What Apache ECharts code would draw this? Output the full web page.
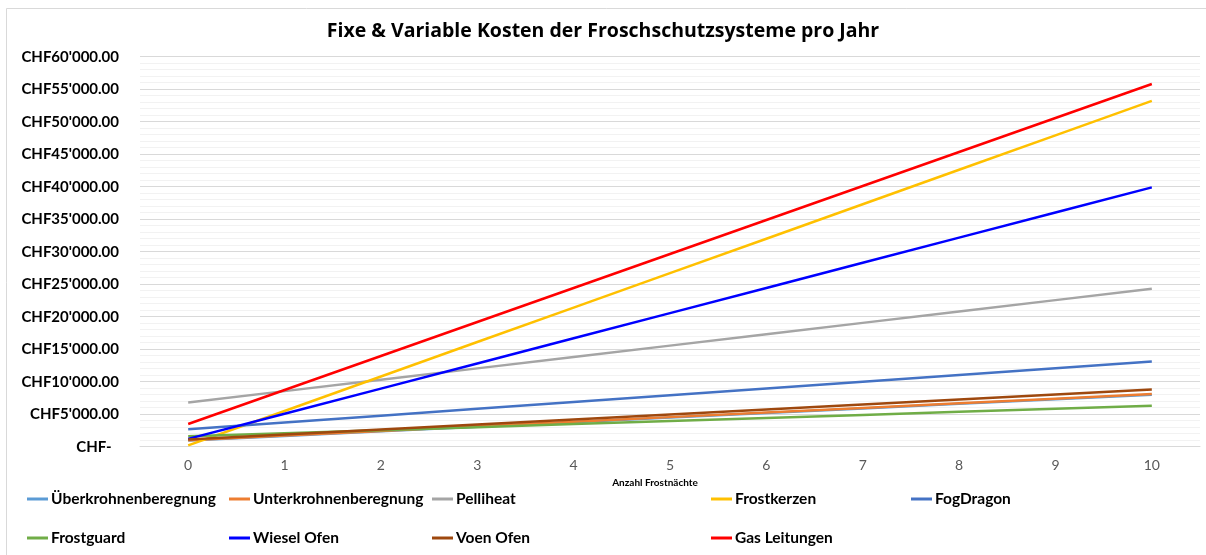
<!DOCTYPE html>
<html><head><meta charset="utf-8">
<script src="https://cdn.jsdelivr.net/npm/echarts@6/dist/echarts.min.js"></script>
<style>html,body{margin:0;padding:0;background:#fff;}#c{width:1206px;height:555px;}</style>
</head><body><div id="c"></div>
<script>
const categories = ['0','1','2','3','4','5','6','7','8','9','10'];
const titleText = 'Fixe & Variable Kosten der Froschschutzsysteme pro Jahr';
const xAxisName = 'Anzahl Frostnächte';
const seriesNames = ['Überkrohnenberegnung','Unterkrohnenberegnung','Pelliheat','Frostkerzen','FogDragon','Frostguard','Wiesel Ofen','Voen Ofen','Gas Leitungen'];
const ueberkrohnen = [950, 1655, 2360, 3065, 3770, 4475, 5180, 5885, 6590, 7295, 8000];
const unterkrohnen = [1000, 1710, 2420, 3130, 3840, 4550, 5260, 5970, 6680, 7390, 8100];
const pelliheat = [6800, 8550, 10300, 12050, 13800, 15550, 17300, 19050, 20800, 22550, 24300];
const frostkerzen = [200, 5500, 10800, 16100, 21400, 26700, 32000, 37300, 42600, 47900, 53200];
const fogDragon = [2700, 3740, 4780, 5820, 6860, 7900, 8940, 9980, 11020, 12060, 13100];
const frostguard = [1600, 2070, 2540, 3010, 3480, 3950, 4420, 4890, 5360, 5830, 6300];
const wieselOfen = [1200, 5070, 8940, 12810, 16680, 20550, 24420, 28290, 32160, 36030, 39900];
const voenOfen = [1100, 1870, 2640, 3410, 4180, 4950, 5720, 6490, 7260, 8030, 8800];
const gasLeitungen = [3500, 8730, 13960, 19190, 24420, 29650, 34880, 40110, 45340, 50570, 55800];
const seriesData = [ueberkrohnen, unterkrohnen, pelliheat, frostkerzen, fogDragon, frostguard, wieselOfen, voenOfen, gasLeitungen];
const colors = ['#5B9BD5','#ED7D31','#A5A5A5','#FFC000','#4472C4','#70AD47','#0000FF','#9E480E','#FF0000'];
const legendPos = [[27,491],[229,491],[432,491],[711,491],[911,491],[27,530],[229,530],[432,530],[711,530]];

function fmt(v){
  if (v === 0) return 'CHF-  ';
  return 'CHF' + String(v).replace(/\B(?=(\d{3})+(?!\d))/g, "'") + '.00';
}

const chart = echarts.init(document.getElementById('c'));
const legends = seriesNames.map((n,i)=>({
  data:[n], left: legendPos[i][0], top: legendPos[i][1],
  icon:'rect', itemWidth:21, itemHeight:3, itemGap:3, padding:0,
  textStyle:{fontFamily:'Lato', fontWeight:'bold', fontSize:15.5, color:'#000', padding:[0,0,0,-2]}
}));
chart.setOption({
  backgroundColor:'#fff',
  animation:false,
  title:{text:titleText, left:'center', top:16, textStyle:{fontFamily:'Open Sans', fontWeight:'bold', fontSize:19.5, color:'#000'}},
  legend: legends,
  graphic:[{type:'rect', shape:{x:6.5,y:8.5,width:1210,height:560}, style:{fill:'none', stroke:'#d9d9d9', lineWidth:1}, silent:true}],
  grid:{left:140, right:6, top:56.7, bottom:108.3},
  xAxis:{type:'category', data:categories, boundaryGap:true,
    name:xAxisName, nameLocation:'middle', nameGap:31,
    nameTextStyle:{fontFamily:'Lato', fontWeight:'bold', fontSize:10, color:'#000', padding:[0,0,0,-30]},
    axisLine:{lineStyle:{color:'#d9d9d9'}}, axisTick:{show:false},
    axisLabel:{fontFamily:'Lato', fontSize:14, color:'#595959', margin:12}},
  yAxis:{type:'value', min:0, max:60000, interval:5000,
    axisLabel:{formatter:fmt, fontFamily:'Lato', fontWeight:'bold', fontSize:15, color:'#000', margin:21},
    splitLine:{lineStyle:{color:'#d9d9d9'}},
    minorTick:{show:false, splitNumber:5},
    minorSplitLine:{show:true, lineStyle:{color:'#f2f2f2'}},
    axisLine:{show:false}, axisTick:{show:false}},
  series: seriesNames.map((n,i)=>({
    name:n, type:'line', data:seriesData[i], showSymbol:false, symbol:'none',
    lineStyle:{width:2.5, color:colors[i]}, itemStyle:{color:colors[i]}
  }))
});
</script></body></html>
